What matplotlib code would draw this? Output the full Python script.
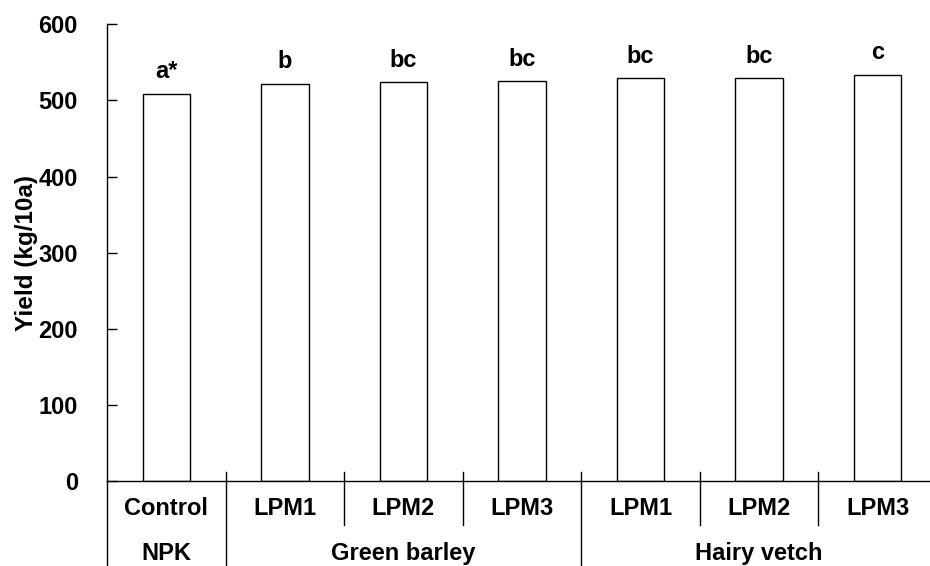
import numpy as np
import matplotlib; matplotlib.use('Agg')
import matplotlib.pyplot as plt
import matplotlib.transforms as mtransforms

plt.rcParams.update({
    'font.family': ['Liberation Sans', 'DejaVu Sans'],
    'font.weight': 'bold', 'font.size': 17,
    'axes.labelweight': 'bold', 'axes.linewidth': 1.0,
    'ytick.direction': 'in', 'ytick.major.width': 1.0,
})

# Data
treatments = ['Control', 'LPM1', 'LPM2', 'LPM3', 'LPM1', 'LPM2', 'LPM3']
groups = ['NPK', 'Green barley', 'Hairy vetch']
group_sizes = [1, 3, 3]
yields = [509, 522, 524, 525, 529, 529, 534]
letters = ['a*', 'b', 'bc', 'bc', 'bc', 'bc', 'c']

fig = plt.figure(figsize=(9.3, 5.66), dpi=100)
ax = fig.add_axes([107/930, 85/566, 830/930, 456.6/566])

x = np.arange(len(treatments))
ax.bar(x, yields, width=0.4, color='white', edgecolor='black', linewidth=1.0)

for xi, v, s in zip(x, yields, letters):
    ax.annotate(s, (xi, v), xytext=(0, 11), textcoords='offset points',
                ha='center', va='baseline', fontsize=17, fontweight='bold')

ax.set_xlim(-0.5, len(treatments) - 0.5)
ax.set_ylim(0, 600)
ax.set_yticks(np.arange(0, 601, 100))
ax.tick_params(axis='y', length=7, pad=21)
ax.set_xticks([])
ax.spines['top'].set_visible(False)
ax.spines['right'].set_visible(False)
ax.set_ylabel('Yield (kg/10a)', fontsize=17.5, fontweight='bold')
ax.yaxis.set_label_coords(-0.083, 0.5)

# Two-row category axis
trans = mtransforms.blended_transform_factory(ax.transData, ax.transAxes)
row1_y, row2_y, top_y, mid_y, bot_y = -0.061, -0.158, 0.0197, -0.096, -0.19
for xi, t in zip(x, treatments):
    ax.text(xi, row1_y, t, transform=trans, ha='center', va='center', fontsize=17)

start = 0
bounds = [start - 0.5]
for g, n in zip(groups, group_sizes):
    ax.text(start + (n - 1) / 2, row2_y, g, transform=trans, ha='center', va='center', fontsize=17)
    for k in range(1, n):
        b = start + k - 0.5
        ax.plot([b, b], [top_y, mid_y], transform=trans, color='black', lw=1.0, clip_on=False)
    start += n
    bounds.append(start - 0.5)

ax.plot([bounds[0], bounds[0]], [0, bot_y], transform=trans, color='black', lw=1.0, clip_on=False)
for b in bounds[1:-1]:
    ax.plot([b, b], [top_y, bot_y], transform=trans, color='black', lw=1.0, clip_on=False)

fig.savefig('out.png', dpi=100)
